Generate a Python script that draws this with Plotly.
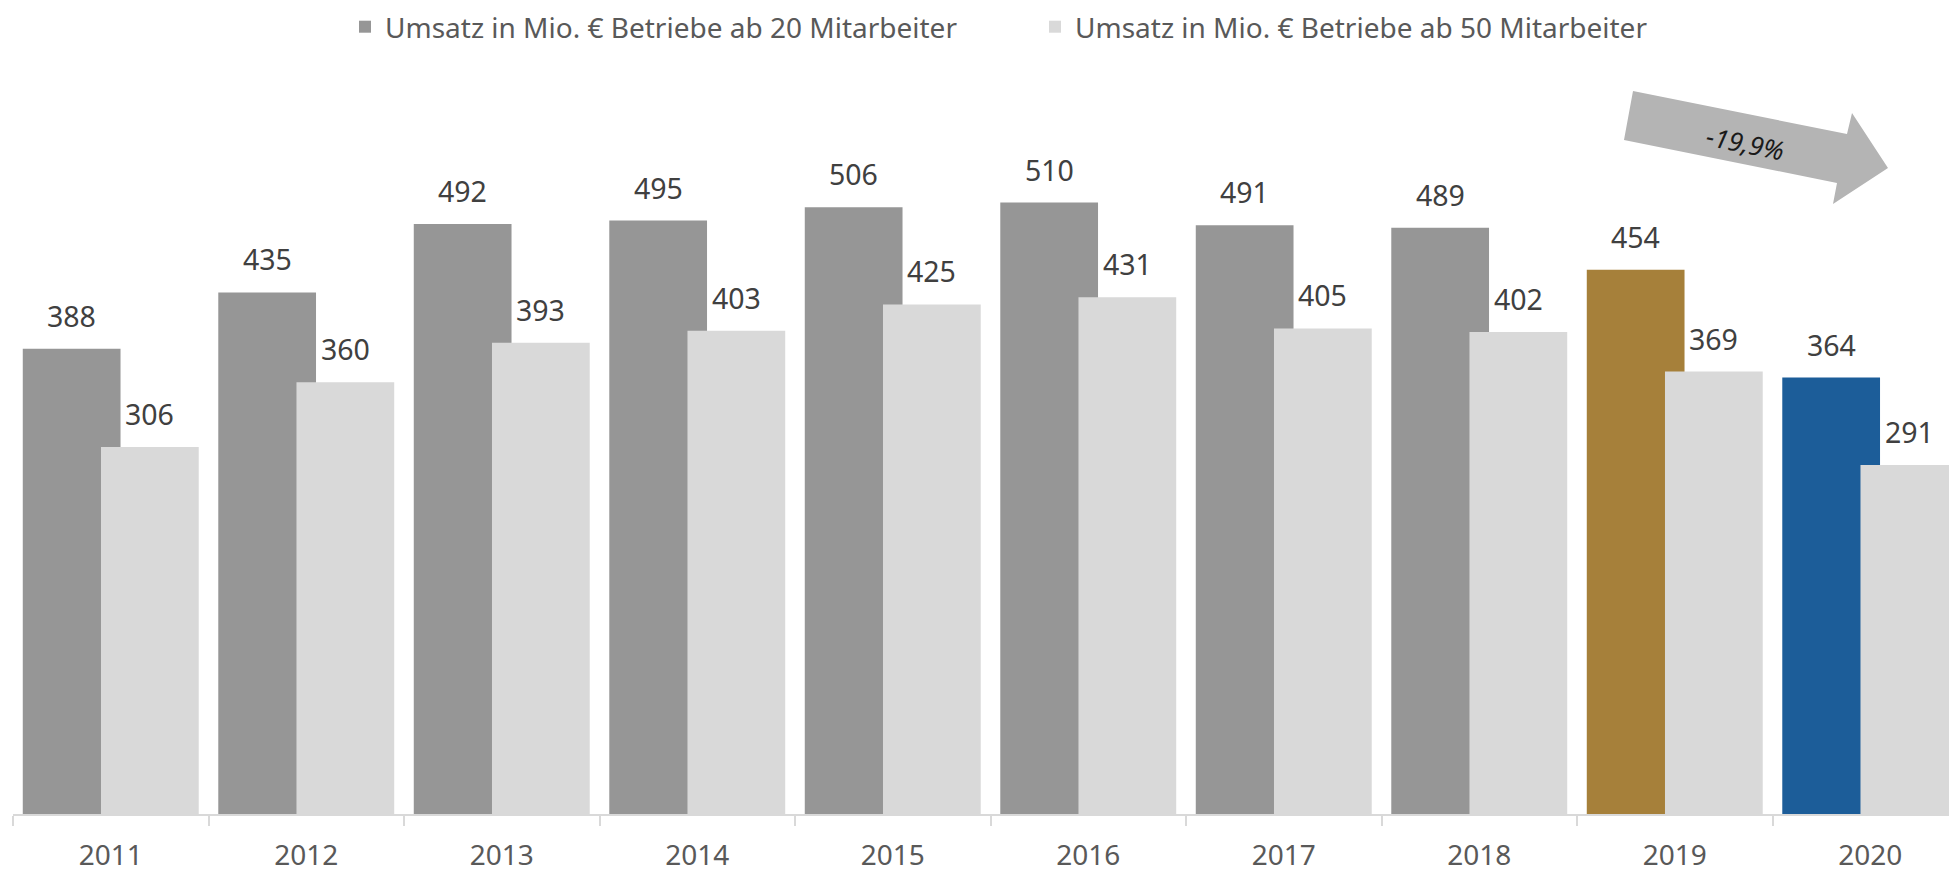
import plotly.graph_objects as go

# ---- data ----
years = ["2011", "2012", "2013", "2014", "2015", "2016", "2017", "2018", "2019", "2020"]
umsatz_20 = [388, 435, 492, 495, 506, 510, 491, 489, 454, 364]
umsatz_50 = [306, 360, 393, 403, 425, 431, 405, 402, 369, 291]
name_20 = "Umsatz in Mio. € Betriebe ab 20 Mitarbeiter"
name_50 = "Umsatz in Mio. € Betriebe ab 50 Mitarbeiter"
change_label = "-19,9%"

# ---- styles ----
GRAY_DARK = "#969696"
GRAY_LIGHT = "#d9d9d9"
GOLD = "#a6803a"
BLUE = "#1c5d99"
colors_20 = [GRAY_DARK] * 8 + [GOLD, BLUE]
FONT = "Noto Sans"

W, H = 1949, 872
L, T, B = 13, 0, 58
PW, PH = W - L, H - T - B
PX_PER_CAT = 195.5
PX_PER_UNIT = 1.199
BAR_W = 0.5
OFF_20, OFF_50 = -0.45, -0.05


def px(x, y):
    """pixel -> paper coordinates"""
    return (x - L) / PW, (H - B - y) / PH


idx = list(range(len(years)))
boundaries = [i - 0.5 for i in range(len(years) + 1)]

fig = go.Figure()
fig.add_trace(go.Bar(
    x=idx, y=umsatz_20, name=name_20,
    marker=dict(color=colors_20, line=dict(width=0)),
    width=BAR_W, offset=OFF_20,
))
fig.add_trace(go.Bar(
    x=idx, y=umsatz_50, name=name_50,
    marker=dict(color=GRAY_LIGHT, line=dict(width=0)),
    width=BAR_W, offset=OFF_50,
))

label_font = dict(family=FONT, size=28.5, color="#404040")
annotations = []
for i, v in zip(idx, umsatz_20):
    annotations.append(dict(x=i + OFF_20 + BAR_W / 2, y=v, xref="x", yref="y", text=str(v),
                            showarrow=False, xanchor="center", yanchor="bottom", yshift=12,
                            font=label_font))
for i, v in zip(idx, umsatz_50):
    annotations.append(dict(x=i + OFF_50 + BAR_W / 2, y=v, xref="x", yref="y", text=str(v),
                            showarrow=False, xanchor="center", yanchor="bottom", yshift=12,
                            font=label_font))

# arrow shape (decorative)
arrow_px = [(1633, 91), (1847, 134), (1852, 113), (1888, 168), (1833, 204), (1837, 183), (1624, 140)]
pts = [px(x, y) for x, y in arrow_px]
path = "M " + " L ".join(f"{a:.5f},{b:.5f}" for a, b in pts) + " Z"
shapes = [dict(type="path", xref="paper", yref="paper", path=path,
               fillcolor="#b4b4b4", line=dict(width=0), layer="above")]
ax_, ay_ = px(1745, 143)
annotations.append(dict(x=ax_, y=ay_, xref="paper", yref="paper", text=f"<i>{change_label}</i>",
                        showarrow=False, textangle=11.4, xanchor="center", yanchor="middle",
                        font=dict(family=FONT, size=26, color="#1a1a1a")))

lx, ly = px(345, 2)
fig.update_layout(
    width=W, height=H,
    margin=dict(l=L, r=0, t=T, b=B, pad=0, autoexpand=False),
    paper_bgcolor="white", plot_bgcolor="white",
    barmode="overlay",
    showlegend=True,
    legend=dict(orientation="h", x=lx, xanchor="left", y=ly, yanchor="top",
                font=dict(family=FONT, size=28, color="#595959"),
                entrywidth=645, entrywidthmode="pixels",
                bgcolor="rgba(0,0,0,0)", borderwidth=0, traceorder="normal"),
    xaxis=dict(type="linear", range=[-0.5, -0.5 + PW / PX_PER_CAT], automargin=False,
               tickmode="array", tickvals=idx, ticktext=years, ticks="",
               showline=True, linecolor=GRAY_LIGHT, linewidth=1.5,
               minor=dict(tickmode="array", tickvals=boundaries, ticks="outside", ticklen=10,
                          tickcolor=GRAY_LIGHT, tickwidth=1.5, showgrid=False),
               ticklabelstandoff=16,
               tickfont=dict(family=FONT, size=28, color="#595959"),
               showgrid=False, zeroline=False, fixedrange=True),
    yaxis=dict(range=[0, PH / PX_PER_UNIT], showticklabels=False, ticks="", showgrid=False,
               zeroline=False, showline=False, fixedrange=True, automargin=False),
    annotations=annotations,
    shapes=shapes,
)

fig.write_html("out.html", config={"displayModeBar": False},
               post_script="document.body.style.margin='0';document.body.style.overflow='hidden';")
